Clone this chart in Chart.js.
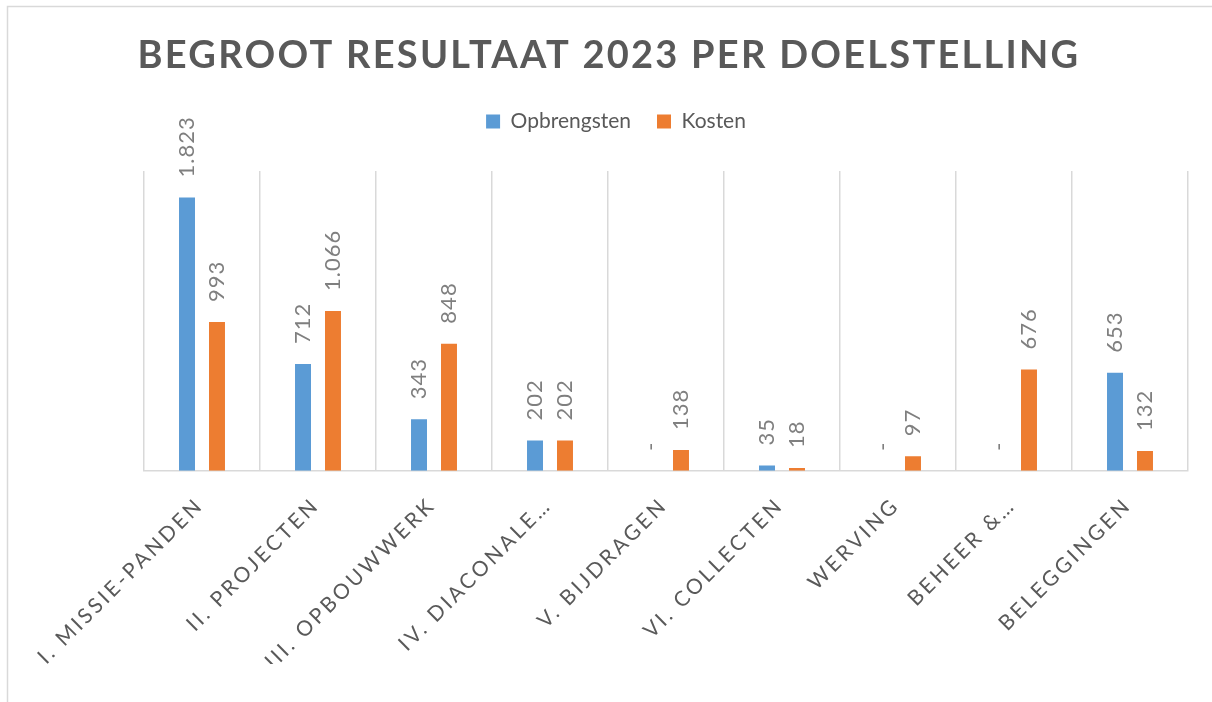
<!DOCTYPE html>
<html lang="nl">
<head>
    <meta charset="UTF-8">
    <title>Begroot resultaat 2023 per doelstelling</title>
    <script src="https://cdn.jsdelivr.net/npm/chart.js@4.4.0/dist/chart.umd.min.js"></script>
    <style>
        html, body { margin: 0; padding: 0; background: #fff; }
        #wrap { position: relative; width: 1212px; height: 702px; }
    </style>
</head>
<body>
    <div id="wrap">
        <canvas id="chart" width="1212" height="702"></canvas>
    </div>

    <script>
        // Data
        const titleText = 'BEGROOT RESULTAAT 2023 PER DOELSTELLING';
        const categories = [
            'I. MISSIE-PANDEN', 'II. PROJECTEN', 'III. OPBOUWWERK', 'IV. DIACONALE…',
            'V. BIJDRAGEN', 'VI. COLLECTEN', 'WERVING', 'BEHEER &…', 'BELEGGINGEN'
        ];
        const opbrengsten = [1823, 712, 343, 202, 0, 35, 0, 0, 653];
        const kosten = [993, 1066, 848, 202, 138, 18, 97, 676, 132];

        const FONT = 'Lato, "Open Sans", sans-serif';
        const TEXT = '#595959';

        function fmt(v) {
            if (v === 0) return '-';
            return String(v).replace(/\B(?=(\d{3})+(?!\d))/g, '.');
        }

        // title, frame, value labels and letter spacing for the axis labels
        const decor = {
            id: 'decor',
            beforeLayout(chart) {
                // extra room between legend and plot area
                const lg = chart.legend;
                if (lg && !lg._extra) {
                    const fit = lg.fit.bind(lg);
                    lg.fit = function () { fit(); this.height += 29; };
                    lg._extra = true;
                }
            },
            beforeDraw(chart) {
                const ctx = chart.ctx;
                ctx.save();
                ctx.strokeStyle = '#d9d9d9';
                ctx.lineWidth = 1.5;
                ctx.beginPath();
                ctx.moveTo(7.5, 702);
                ctx.lineTo(7.5, 6.5);
                ctx.lineTo(1212, 6.5);
                ctx.stroke();

                ctx.fillStyle = TEXT;
                ctx.font = 'bold 38px ' + FONT;
                ctx.letterSpacing = '2.25px';
                ctx.textAlign = 'center';
                ctx.textBaseline = 'alphabetic';
                ctx.fillText(titleText, 609, 68);
                ctx.restore();
            },
            afterDatasetsDraw(chart) {
                const ctx = chart.ctx;
                ctx.save();
                ctx.fillStyle = '#7f7f7f';
                ctx.font = '22px ' + FONT;
                ctx.letterSpacing = '1px';
                ctx.textAlign = 'left';
                ctx.textBaseline = 'middle';
                chart.data.datasets.forEach((ds, i) => {
                    chart.getDatasetMeta(i).data.forEach((bar, j) => {
                        ctx.save();
                        ctx.translate(bar.x, bar.y - 20);
                        ctx.rotate(-Math.PI / 2);
                        ctx.fillText(fmt(ds.data[j]), 0, 0);
                        ctx.restore();
                    });
                });
                ctx.restore();
                // x tick labels are drawn after this (ticks.z = 1)
                ctx.save();
                ctx.translate(-2, 0);
                ctx.letterSpacing = '3px';
            },
            afterDraw(chart) {
                chart.ctx.restore();
                chart.ctx.letterSpacing = '0px';
            }
        };

        new Chart(document.getElementById('chart'), {
            type: 'bar',
            data: {
                labels: categories,
                datasets: [
                    {
                        label: 'Opbrengsten',
                        data: opbrengsten,
                        backgroundColor: '#5b9bd5',
                        categoryPercentage: 0.517,
                        barPercentage: 0.533
                    },
                    {
                        label: 'Kosten',
                        data: kosten,
                        backgroundColor: '#ed7d31',
                        categoryPercentage: 0.517,
                        barPercentage: 0.533
                    }
                ]
            },
            options: {
                responsive: false,
                animation: false,
                layout: {
                    padding: { top: 85, left: 44, right: 24, bottom: 38 }
                },
                plugins: {
                    title: { display: false },
                    tooltip: { enabled: false },
                    legend: {
                        position: 'top',
                        labels: {
                            boxWidth: 14,
                            boxHeight: 14,
                            padding: 26,
                            color: TEXT,
                            font: { family: FONT, size: 21 }
                        }
                    }
                },
                scales: {
                    x: {
                        grid: {
                            display: true,
                            offset: true,
                            drawTicks: false,
                            color: '#d9d9d9',
                            lineWidth: 1.5
                        },
                        border: { color: '#d9d9d9', width: 1.5 },
                        ticks: {
                            z: 1,
                            autoSkip: false,
                            minRotation: 45,
                            maxRotation: 45,
                            padding: 22,
                            color: TEXT,
                            font: { family: FONT, size: 21 }
                        }
                    },
                    y: {
                        min: 0,
                        max: 2000,
                        grid: { display: false },
                        border: { display: false },
                        ticks: { display: false },
                        afterFit(scale) { scale.width = 100; }
                    }
                }
            },
            plugins: [decor]
        });
    </script>
</body>
</html>
